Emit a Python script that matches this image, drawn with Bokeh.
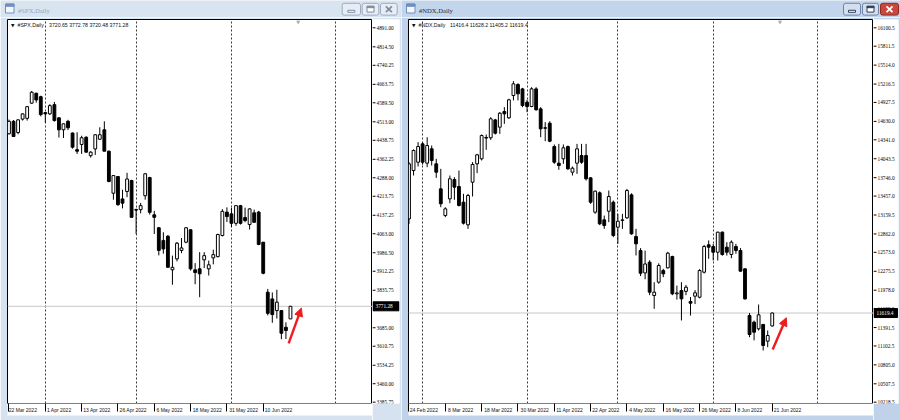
from bokeh.plotting import figure
from bokeh.models import (Range1d, FixedTicker, Span, Label, Arrow, NormalHead,
                          ColumnDataSource)
from bokeh.layouts import row, column
from bokeh.embed import file_html
from bokeh.resources import INLINE

# ---------------- data: #SPX daily ----------------
spx_labels = ["22 Mar 2022", "1 Apr 2022", "13 Apr 2022", "26 Apr 2022", "6 May 2022",
              "18 May 2022", "31 May 2022", "10 Jun 2022"]
spx_label_bars = [0, 8, 16, 24, 32, 40, 48, 56]
spx_month_bars = [8, 28, 49, 72]
spx_yticks = [3385.75, 3460.00, 3534.25, 3610.75, 3685.00, 3835.75, 3912.25, 3986.50,
              4063.00, 4137.25, 4213.75, 4288.00, 4362.25, 4438.75, 4513.00, 4589.50,
              4663.75, 4740.25, 4814.50, 4891.00]
spx_open = [4465, 4515, 4470, 4524, 4527, 4588, 4628, 4614, 4550, 4545, 4582, 4529, 4481, 4515,
            4468, 4401, 4422, 4451, 4377, 4404, 4443, 4481, 4395, 4226, 4293, 4203, 4233, 4277,
            4160, 4160, 4216, 4289, 4139, 4087, 4036, 4053, 3918, 3962, 3996, 4029, 4079, 3918,
            3922, 3958, 3922, 3966, 3971, 4056, 4150, 4143, 4105, 4176, 4128, 4100, 4147, 4150,
            4029, 3828, 3801, 3754, 3754, 3687, 3720.65]
spx_high = [4522, 4520, 4523, 4547, 4577, 4637, 4630, 4618, 4552, 4584, 4593, 4531, 4506, 4521,
            4470, 4471, 4457, 4455, 4395, 4463, 4491, 4515, 4397, 4298, 4295, 4240, 4308, 4280,
            4164, 4187, 4307, 4292, 4155, 4090, 4069, 4058, 3975, 4030, 4046, 4090, 4081, 3945,
            3989, 3989, 3955, 3999, 4063, 4162, 4169, 4167, 4177, 4179, 4168, 4165, 4160, 4155,
            4030, 3841, 3827, 3838, 3756, 3707, 3772.78]
spx_low = [4462, 4452, 4463, 4518, 4518, 4585, 4590, 4535, 4510, 4540, 4514, 4450, 4448, 4480,
           4405, 4384, 4384, 4390, 4369, 4380, 4440, 4395, 4270, 4200, 4175, 4165, 4210, 4129,
           4062, 4145, 4200, 4140, 4062, 3976, 3983, 3928, 3858, 3952, 3985, 4025, 3915, 3860,
           3808, 3925, 3895, 3940, 3968, 4052, 4110, 4090, 4095, 4100, 4109, 4080, 4107, 4017,
           3900, 3735, 3705, 3722, 3639, 3640, 3720.48]
spx_close = [4515, 4454, 4521, 4545, 4574, 4632, 4601, 4542, 4545, 4578, 4518, 4481, 4505, 4489,
             4411, 4395, 4449, 4391, 4391, 4461, 4461, 4395, 4273, 4297, 4180, 4186, 4283, 4129,
             4158, 4176, 4304, 4149, 4129, 3996, 4002, 3928, 3928, 4025, 4006, 4087, 3922, 3907,
             3902, 3975, 3938, 3979, 4060, 4153, 4132, 4105, 4176, 4105, 4116, 4163, 4109, 4020,
             3904, 3743, 3738, 3788, 3663, 3674, 3771.28]

# ---------------- data: #NDX daily ----------------
ndx_labels = ["24 Feb 2022", "8 Mar 2022", "18 Mar 2022", "30 Mar 2022", "11 Apr 2022",
              "22 Apr 2022", "4 May 2022", "16 May 2022", "26 May 2022", "8 Jun 2022",
              "21 Jun 2022"]
ndx_label_bars = [0, 8, 16, 24, 32, 40, 48, 56, 64, 72, 80]
ndx_month_bars = [3, 26, 46, 67, 90]
ndx_yticks = [10218.5, 10507.5, 10805.0, 11102.5, 11391.5, 11689.0, 11978.0, 12275.5,
              12573.0, 12862.0, 13159.5, 13457.0, 13746.0, 14043.5, 14341.0, 14630.0,
              14927.5, 15216.5, 15514.0, 15811.5, 16100.5]
ndx_open = [13099, 13858, 13989, 14277, 13974, 14199, 13963, 13570, 13151, 13413, 13717, 13607,
            13361, 13005, 13675, 13963, 14042, 14378, 14372, 14654, 14539, 14785, 14686, 15037,
            15209, 15141, 14932, 14864, 15141, 14827, 14530, 14602, 14235, 13974, 14042, 14235,
            13832, 13974, 14094, 14094, 13743, 13204, 13508, 13083, 13219, 13361, 12968, 13075,
            13115, 13476, 12822, 12601, 12250, 12418, 11895, 12104, 12287, 12329, 12507, 11921,
            11973, 11960, 11800, 11884, 11868, 12261, 12691, 12664, 12575, 12890, 12654, 12539,
            12664, 12602, 12314, 11580, 11476, 11371, 11439, 11177, 11416.4]
ndx_high = [13990, 14190, 14304, 14300, 14382, 14251, 14042, 13885, 13282, 13780, 13754, 13858,
            13492, 13492, 13990, 14120, 14424, 14424, 14696, 14670, 14775, 14853, 14985, 15262,
            15230, 15157, 14969, 15168, 15168, 14853, 14618, 14633, 14267, 14277, 14267, 14251,
            13921, 14277, 14277, 14277, 13754, 13544, 13530, 13151, 13544, 13387, 13178, 13178,
            13570, 13500, 12942, 12640, 12600, 12450, 12104, 12400, 12314, 12580, 12520, 12050,
            12104, 12060, 11870, 11980, 12310, 12690, 12759, 12706, 12895, 12900, 12733, 12760,
            12706, 12640, 12320, 11620, 11500, 11753, 11450, 11345, 11628.2]
ndx_low = [13020, 13780, 13921, 13950, 13911, 13937, 13743, 13282, 13125, 13345, 13398, 13293,
           13010, 12942, 13450, 13817, 14016, 14183, 14340, 14424, 14434, 14592, 14670, 14960,
           14960, 14853, 14775, 14853, 14801, 14382, 14319, 14303, 13963, 13869, 13963, 13869,
           13780, 13806, 13963, 13701, 13335, 13178, 13000, 12942, 13047, 12811, 12706, 12942,
           13099, 12850, 12523, 12200, 12150, 11900, 11685, 12080, 12183, 12320, 11900, 11830,
           11502, 11900, 11580, 11760, 11850, 12240, 12471, 12445, 12445, 12520, 12523, 12480,
           12550, 12270, 11830, 11240, 11190, 11345, 11031, 11083, 11405.2]
ndx_close = [13963, 14173, 14235, 13989, 14251, 14016, 13832, 13335, 13256, 13728, 13597, 13309,
             13031, 13466, 13953, 14105, 14408, 14368, 14670, 14445, 14759, 14749, 14969, 15220,
             15063, 14880, 14864, 15141, 14812, 14513, 14523, 14319, 13989, 13937, 14215, 13885,
             13895, 14199, 13989, 13728, 13361, 13534, 13021, 12994, 13450, 12837, 13062, 13083,
             13544, 12863, 12706, 12245, 12390, 11947, 11947, 12366, 12235, 12560, 11921, 11935,
             11842, 12025, 11774, 11937, 12287, 12664, 12654, 12575, 12890, 12539, 12575, 12733,
             12602, 12277, 11842, 11282, 11318, 11591, 11109, 11266, 11619.4]

FONT = "Liberation Sans"
H_TOTAL = 420
TB_H = 17
CH_H = H_TOTAL - TB_H
B_TOP, B_BOT = 2, 17            # chart frame borders (frame: page y 19..403)
AX_FS = 5.0                      # date label font size, px
PS_FS = 5.3                      # price scale font size, px

# approximate Liberation Sans advance widths (em) for left-aligning date labels
_W = {" ": .278, "M": .833, "a": .556, "r": .333, "A": .667, "p": .556, "y": .5, "J": .5,
      "u": .556, "n": .556, "F": .611, "e": .556, "b": .556}


def left_aligned(s, first):
    fig_sp = 0.556 * AX_FS
    if first:            # first label is clamped to the canvas edge
        return "\u2007" * 3 + s
    w = sum(_W.get(ch, .556) for ch in s) * AX_FS
    n = max(0, round((w + 4.0) / fig_sp))
    return "\u2007" * n + s


def titlebar(W, title, active, btn):
    bg = "#C3D5EB" if active else "#D9E4F1"
    t = figure(width=W, height=TB_H, x_range=Range1d(0, W), y_range=Range1d(TB_H, 0),
               toolbar_location=None, output_backend="svg", min_border=0,
               x_axis_location=None, y_axis_location=None, outline_line_color=None,
               background_fill_color=bg, border_fill_color=bg)
    t.grid.visible = False
    t.quad(left=[5], right=[13.5], top=[3.5], bottom=[12.5], fill_color="#F3F7FC",
           line_color="#6F8FC0", line_width=1)
    t.quad(left=[5], right=[13.5], top=[3.5], bottom=[5.8], fill_color="#6F8FC0",
           line_color="#6F8FC0", line_width=1)
    t.text(x=[17.5], y=[9.5], text=[title], text_font=FONT, text_font_size="6.6px",
           text_baseline="middle", text_color="#1C2A3A" if active else "#97A4B4")
    lefts = [W - b[0] for b in btn]
    rights = [W - b[1] for b in btn]
    if active:
        fills = ["#D3DFEF", "#D3DFEF", "#C9483E"]
        lines = ["#6C82A6", "#6C82A6", "#8E2A22"]
        icol = ["#2F3F56", "#2F3F56", "#FFFFFF"]
    else:
        fills = ["#E6EDF6", "#E6EDF6", "#E6EDF6"]
        lines = ["#9DABBE", "#9DABBE", "#9DABBE"]
        icol = ["#7F8C9C", "#7F8C9C", "#7F8C9C"]
    t.quad(left=lefts, right=rights, top=[2.8] * 3, bottom=[14.6] * 3,
           fill_color=fills, line_color=lines, line_width=1, border_radius=2)
    cx = [(lefts[i] + rights[i]) / 2 for i in range(3)]
    t.quad(left=[cx[0] - 3.5], right=[cx[0] + 3.5], top=[9.8], bottom=[11.8],
           fill_color="white", line_color=icol[0], line_width=1)
    t.quad(left=[cx[1] - 3.5], right=[cx[1] + 3.5], top=[5.8], bottom=[11.6],
           fill_color="white", line_color=icol[1], line_width=1)
    t.quad(left=[cx[1] - 3.5], right=[cx[1] + 3.5], top=[5.8], bottom=[7.2],
           fill_color=icol[1], line_color=icol[1], line_width=1)
    t.segment(x0=[cx[2] - 3, cx[2] - 3], y0=[5.8, 11.6], x1=[cx[2] + 3, cx[2] + 3],
              y1=[11.6, 5.8], line_color=icol[2], line_width=1.8)
    return t


def chart(W, name, o, h, l, c, yr, xlo, xhi, label_bars, labels, month_bars,
          ndig, active, arrow):
    frame_col = "#BFD2EA" if active else "#D6E2F0"
    p = figure(width=W, height=CH_H, x_range=Range1d(xlo, xhi), y_range=yr,
               y_axis_location=None, toolbar_location=None, output_backend="svg",
               min_border_left=7, min_border_right=0, min_border_top=B_TOP,
               min_border_bottom=B_BOT, background_fill_color="white",
               border_fill_color=frame_col, outline_line_color="black", outline_line_width=1)
    n = len(c)
    src = ColumnDataSource(dict(
        x=list(range(n)), o=o, h=h, l=l, c=c,
        top=[max(a, b) for a, b in zip(o, c)],
        bot=[min(a, b) for a, b in zip(o, c)],
        fill=["white" if cc >= oo else "black" for oo, cc in zip(o, c)]))
    p.add_layout(Span(location=c[-1], dimension="width", line_color="#C8C8C8",
                      line_width=1, level="underlay"))
    p.segment(x0="x", y0="l", x1="x", y1="h", line_color="black", line_width=1, source=src)
    p.vbar(x="x", width=0.62, top="top", bottom="bot", fill_color="fill",
           line_color="black", line_width=1, source=src)

    xa = p.xaxis[0]
    xa.ticker = FixedTicker(ticks=label_bars)
    xa.major_label_overrides = {b: left_aligned(s, i == 0)
                                for i, (b, s) in enumerate(zip(label_bars, labels))}
    xa.axis_line_color = None
    xa.minor_tick_line_color = None
    xa.major_tick_line_color = "black"
    xa.major_tick_in = 0
    xa.major_tick_out = 8
    xa.major_label_standoff = -5
    xa.major_label_text_font = FONT
    xa.major_label_text_font_size = "%gpx" % AX_FS
    xa.major_label_text_color = "#111111"
    xa.background_fill_color = "white"
    p.ygrid.visible = False
    p.xgrid.ticker = FixedTicker(ticks=month_bars)
    p.xgrid.grid_line_color = "#3A3A3A"
    p.xgrid.grid_line_dash = "2 2"
    p.xgrid.grid_line_width = 1

    fmtv = "{:.%df}" % ndig
    p.add_layout(Label(x=xlo, y=yr.end, x_offset=3.5, y_offset=-3, text="\u25BC",
                       text_font="DejaVu Sans", text_font_size="4.5px",
                       text_baseline="top", text_color="#111111"))
    p.add_layout(Label(x=xlo, y=yr.end, x_offset=10, y_offset=-2.5, text=name,
                       text_font=FONT, text_font_size="5.2px", text_baseline="top",
                       text_color="#111111"))
    p.add_layout(Label(x=xlo, y=yr.end, x_offset=41.5, y_offset=-2.5,
                       text=" ".join(fmtv.format(v) for v in (o[-1], h[-1], l[-1], c[-1])),
                       text_font=FONT, text_font_size="5.2px", text_baseline="top",
                       text_color="#111111"))
    p.add_layout(Label(x=n - 1 + 1.7, y=yr.end, y_offset=1, text="\u25BC",
                       text_font="DejaVu Sans", text_font_size="5px", text_align="center",
                       text_baseline="top", text_color="#A8A8A8"))
    p.add_layout(Arrow(x_start=arrow[0], y_start=arrow[1], x_end=arrow[2], y_end=arrow[3],
                       line_color="#EE1C1C", line_width=2.4,
                       end=NormalHead(size=8, fill_color="#EE1C1C", line_color="#EE1C1C")))
    return p


def price_scale(W, c, yticks, yr, ndig, active, box_w, right_border):
    """Price scale strip right of the chart frame, sharing the chart's price range."""
    frame_col = "#BFD2EA" if active else "#D6E2F0"
    q = figure(width=W, height=CH_H, x_range=Range1d(0, W - right_border), y_range=yr,
               x_axis_location=None, y_axis_location=None, toolbar_location=None,
               output_backend="svg", min_border_left=0, min_border_right=right_border,
               min_border_top=B_TOP, min_border_bottom=B_BOT, background_fill_color="white",
               border_fill_color=frame_col, outline_line_color=None)
    q.grid.visible = False
    fmtv = "{:.%df}" % ndig
    q.segment(x0=[0] * len(yticks), y0=yticks, x1=[3] * len(yticks), y1=yticks,
              line_color="black", line_width=1)
    q.text(x=[4.0] * len(yticks), y=yticks, text=[fmtv.format(v) for v in yticks],
           text_font=FONT, text_font_size="%gpx" % PS_FS, text_baseline="middle",
           text_color="#000000")
    q.rect(x=[0.5 + box_w / 2], y=[c[-1]], width=box_w, height=9, height_units="screen",
           fill_color="black", line_color="black")
    q.text(x=[3.0], y=[c[-1]], text=[fmtv.format(c[-1])], text_font=FONT,
           text_font_size="%gpx" % PS_FS, text_baseline="middle", text_color="white")
    return q


# left window: #SPX
spx_range = Range1d(3380.5, 4924.4)
left_tb = titlebar(401, "#SPX,Daily", False, [(59.3, 41.0), (39.3, 22.7), (21.0, 4.3)])
left_ch = chart(372, "#SPX,Daily", spx_open, spx_high, spx_low, spx_close, spx_range,
                -0.33, 80.07, spx_label_bars, spx_labels, spx_month_bars,
                2, False, (61.6, 3622, 64.4, 3764))
left_ps = price_scale(29, spx_close, spx_yticks, spx_range, 2, False, 26.0, 2)

# right window: #NDX
ndx_range = Range1d(10198, 16231)
right_tb = titlebar(499, "#NDX,Daily", True, [(57.0, 40.0), (38.0, 22.0), (20.0, 2.0)])
right_ch = chart(472, "#NDX,Daily", ndx_open, ndx_high, ndx_low, ndx_close, ndx_range,
                 -0.11, 102.3, ndx_label_bars, ndx_labels, ndx_month_bars,
                 1, True, (80.1, 11046, 83.1, 11545))
right_ps = price_scale(27, ndx_close, ndx_yticks, ndx_range, 1, True, 23.5, 2)

layout = row(column(left_tb, row(left_ch, left_ps, spacing=0), spacing=0),
             column(right_tb, row(right_ch, right_ps, spacing=0), spacing=0),
             spacing=0)

open("out.html", "w").write(file_html(layout, INLINE))
